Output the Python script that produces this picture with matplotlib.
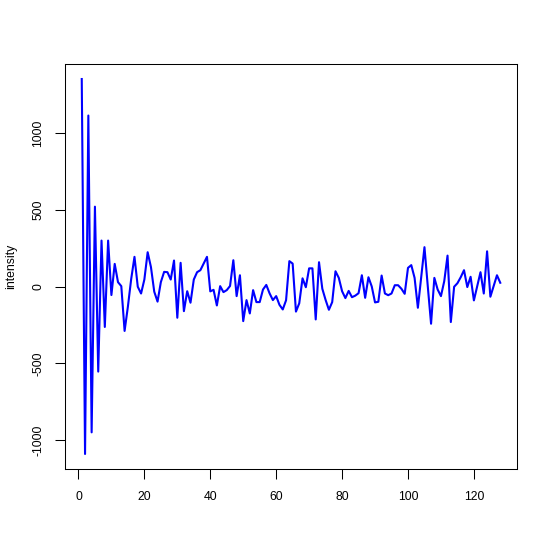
import matplotlib
matplotlib.use("Agg")
import matplotlib.pyplot as plt
import numpy as np

# intensity series (index 1..128)
intensity = [
    1354, -1090, 1116, -949, 522, -553, 301, -262, 301, -54,
    149, 30, 4, -288, -130, 50, 195, 0, -44, 47,
    225, 128, -32, -97, 30, 97, 95, 47, 171, -202,
    156, -159, -29, -104, 47, 95, 108, 151, 195, -30,
    -20, -122, 4, -35, -22, 5, 173, -61, 75, -224,
    -87, -174, -22, -100, -100, -18, 12, -43, -87, -61,
    -118, -148, -88, 167, 151, -162, -108, 55, -3, 120,
    120, -213, 160, -13, -86, -150, -100, 101, 58, -29,
    -74, -27, -68, -58, -42, 75, -72, 62, 2, -102,
    -98, 73, -44, -55, -44, 10, 10, -13, -46, 123,
    141, 58, -137, 58, 258, 4, -241, 58, -18, -61,
    36, 203, -230, 0, 23, 62, 108, -2, 65, -89,
    4, 95, -44, 231, -65, 4, 75, 26,
]
index = np.arange(1, len(intensity) + 1)

xticks = [0, 20, 40, 60, 80, 100, 120]
yticks = [-1000, -500, 0, 500, 1000]

plt.rcParams['font.family'] = ['Liberation Sans', 'DejaVu Sans']

fig = plt.figure(figsize=(5.5, 5.5), dpi=100)
ax = fig.add_axes([0.1182, 0.1473, 0.8218, 0.7363])

ax.plot(index, intensity, color='#0000ff', lw=1.5)

# R style 4% axis expansion
def r_lim(v):
    lo, hi = min(v), max(v)
    d = (hi - lo) * 0.04
    return lo - d, hi + d

ax.set_xlim(*r_lim(index))
ax.set_ylim(*r_lim(intensity))

ax.set_xticks(xticks)
ax.set_yticks(yticks)
ax.set_yticklabels([str(t) for t in yticks], rotation=90, va='center')
ax.tick_params(axis='both', direction='out', length=7, width=0.75,
               labelsize=8.8, colors='black')
ax.tick_params(axis='x', pad=8.5)
ax.tick_params(axis='y', pad=8)

for s in ax.spines.values():
    s.set_linewidth(0.75)
    s.set_color('black')

ax.set_ylabel('intensity', fontsize=8.8)
ax.yaxis.set_label_coords(-0.107, 0.5)

fig.savefig('out.png', dpi=100)
